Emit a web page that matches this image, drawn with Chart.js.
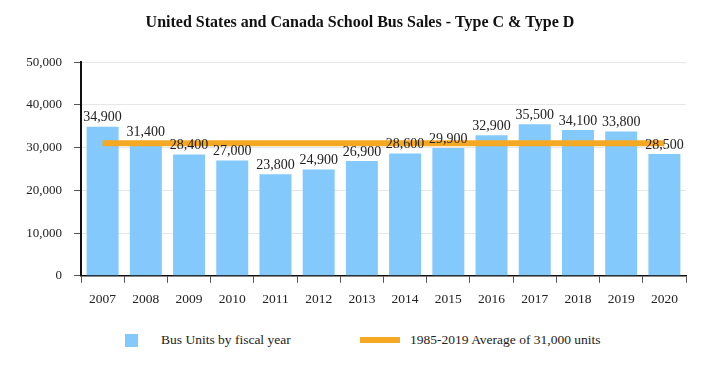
<!DOCTYPE html>
<html>
<head>
<meta charset="utf-8">
<script src="https://cdn.jsdelivr.net/npm/chart.js@4.4.0/dist/chart.umd.min.js"></script>
<style>
  body { margin: 0; background: #fff; font-family: "Liberation Serif", "Times New Roman", serif; }
  #wrap { position: relative; width: 720px; height: 377px; }
  #legend { position: absolute; left: 0; top: 330px; width: 720px; height: 20px; font-size: 13.5px; color: #222; }
  .item { position: absolute; top: 0; display: flex; align-items: center; height: 20px; }
</style>
</head>
<body>
<div id="wrap">
  <canvas id="chart" width="720" height="320"></canvas>
  <div id="legend">
    <div class="item" style="left:125px"><span style="display:inline-block;width:13px;height:13px;background:#83c9fb;margin-right:23px"></span>Bus Units by fiscal year</div>
    <div class="item" style="left:360px"><span style="display:inline-block;width:40px;height:6px;background:#f5a822;margin-right:10px"></span>1985-2019 Average of 31,000 units</div>
  </div>
</div>
<script>
const years = ['2007', '2008', '2009', '2010', '2011', '2012', '2013', '2014', '2015', '2016', '2017', '2018', '2019', '2020'];
const busUnits = [34900, 31400, 28400, 27000, 23800, 24900, 26900, 28600, 29900, 32900, 35500, 34100, 33800, 28500];
const average = [31000, 31000, 31000, 31000, 31000, 31000, 31000, 31000, 31000, 31000, 31000, 31000, 31000, 31000];
const yTicks = [0, 10000, 20000, 30000, 40000, 50000];

const fmt = v => v.toLocaleString('en-US');

// labels above each bar
const barLabels = {
    id: 'barLabels',
    afterDatasetsDraw(chart) {
        const ctx = chart.ctx;
        const meta = chart.getDatasetMeta(1);
        ctx.save();
        ctx.font = '14px "Liberation Serif", serif';
        ctx.fillStyle = '#222';
        ctx.textAlign = 'center';
        ctx.textBaseline = 'bottom';
        meta.data.forEach((bar, i) => {
            ctx.fillText(fmt(busUnits[i]), bar.x, bar.y - 2);
        });
        ctx.restore();
    }
};

Chart.defaults.font.family = '"Liberation Serif", "Times New Roman", serif';
Chart.defaults.color = '#222';

new Chart(document.getElementById('chart'), {
    data: {
        labels: years,
        datasets: [
            {
                type: 'line',
                label: '1985-2019 Average of 31,000 units',
                data: average,
                borderColor: '#f5a822',
                borderWidth: 6,
                pointRadius: 0,
                borderCapStyle: 'butt',
                order: 0
            },
            {
                type: 'bar',
                label: 'Bus Units by fiscal year',
                data: busUnits,
                backgroundColor: '#83c9fb',
                barPercentage: 0.74,
                categoryPercentage: 1,
                order: 1
            }
        ]
    },
    options: {
        responsive: false,
        animation: false,
        layout: { padding: { left: 5, right: 5, top: 0, bottom: 3 } },
        plugins: {
            legend: { display: false },
            tooltip: { enabled: false },
            title: {
                display: true,
                text: 'United States and Canada School Bus Sales - Type C & Type D',
                font: { size: 16, weight: 'bold' },
                color: '#111',
                padding: { top: 13, bottom: 30 }
            }
        },
        scales: {
            x: {
                grid: { display: true, drawOnChartArea: false, drawTicks: true, tickLength: 7, color: '#555' },
                border: { color: '#111', width: 1.5 },
                ticks: { font: { size: 13.5 }, padding: 9 }
            },
            y: {
                min: 0,
                max: 50000,
                afterBuildTicks: s => { s.ticks = yTicks.map(v => ({ value: v })); },
                afterFit: s => { s.width = 76; },
                grid: { color: '#e6e6e6', tickColor: '#555', tickLength: 7 },
                border: { color: '#111', width: 2 },
                ticks: { font: { size: 13 }, padding: 12, callback: v => fmt(v) }
            },
            // empty right-hand spacer so the title stays centred on the page
            yRight: {
                position: 'right',
                min: 0,
                max: 50000,
                afterFit: s => { s.width = 29; },
                grid: { display: false },
                border: { display: false },
                ticks: { display: false }
            }
        }
    },
    plugins: [barLabels]
});
</script>
</body>
</html>
